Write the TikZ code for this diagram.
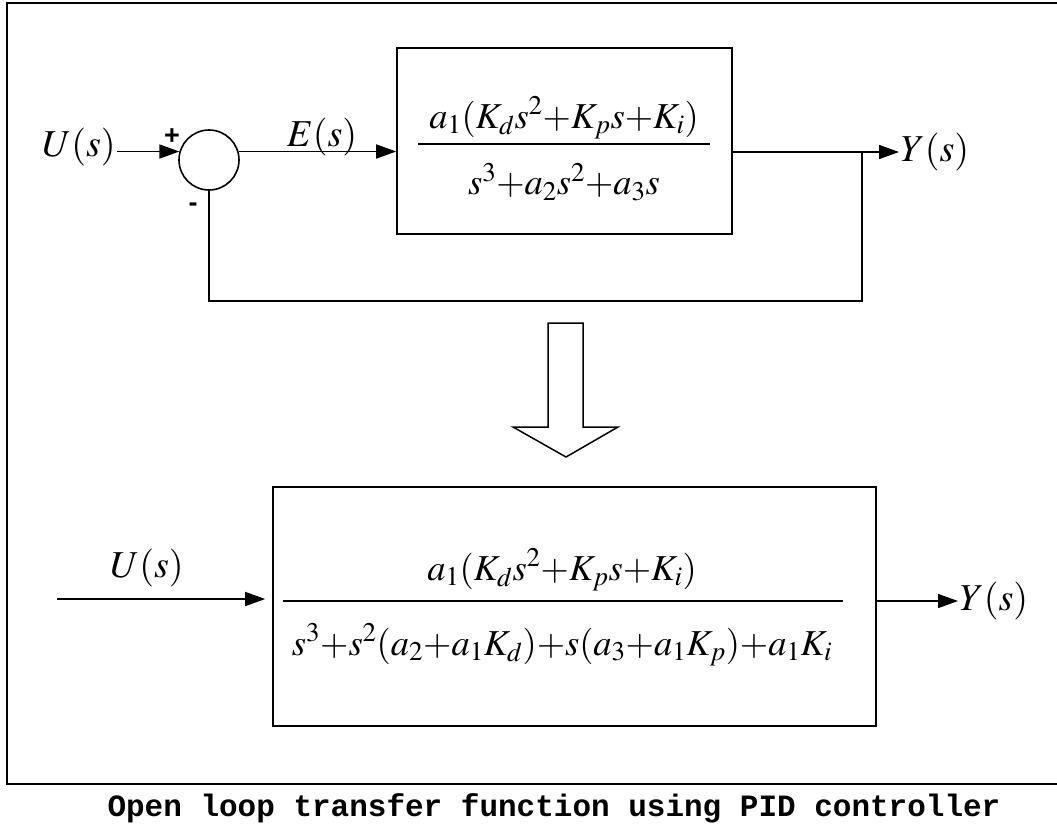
\documentclass[tikz,border=0pt]{standalone}
\usepackage{mathptmx}
\usepackage{fontspec}
\setmonofont{Liberation Mono}
\setsansfont{Liberation Sans}
\usetikzlibrary{arrows.meta}

\tikzset{
  sig/.style={inner sep=1pt, font=\fontsize{38}{44}\selectfont},
  frac/.style={inner sep=1pt, font=\fontsize{36.5}{42}\selectfont},
  blk/.style={draw, line width=1.6pt, inner sep=0pt},
  sum/.style={draw, circle, line width=1.6pt, minimum size=60pt, inner sep=0pt},
  pm/.style={inner sep=0pt, font=\sffamily\bfseries\fontsize{27}{30}\selectfont},
  bar/.style={line width=2.4pt},
}

\begin{document}
\begin{tikzpicture}[x=1pt, y=-1pt, line width=1.6pt, >={Triangle[length=20pt,width=14pt]}]
\useasboundingbox (0,0) rectangle (1057,825);
% frame
\draw[line width=2.6pt] (1057,3) -- (7,3) -- (7,784) -- (1057,784);

% closed loop
\node[sum] (sum) at (209,160) {};
\node[pm] (plus) at (172,137) {+};
\node[pm] (minus) at (193,207) {-};
\node[sig] (u1) at (79,147) {$U(s)$};
\node[sig] (e1) at (322,137) {$E(s)$};
\node[blk, minimum width=335pt, minimum height=186pt] (g1) at (564.5,141) {};
\node[frac] (n1) at (564,118) {$a_1(K_ds^2{+}K_ps{+}K_i)$};
\node[frac] (d1) at (564,182) {$s^3{+}a_2s^2{+}a_3s$};
\draw[bar] (418,144) -- (710,144);
\coordinate (split) at (862,152);
\node[sig, anchor=west] (y1) at (899,152) {$Y(s)$};

\draw[->] (u1.east |- sum.164) -- (sum.164);
\draw[->] (sum.16) -- (sum.16 -| g1.west);
\draw (g1.east |- split) -- (split);
\draw[->] (split) -- (y1.west);
\draw (split) -- ++(0,149) -| (sum.south);

% hollow arrow
\draw[line width=1.5pt] (548,323) -- (583,323) -- (583,427) -- (618,427)
  -- (566,457) -- (513,427) -- (548,427) -- cycle;

% open loop
\node[blk, minimum width=603pt, minimum height=239pt] (g2) at (574.5,606.5) {};
\node[frac] (n2) at (562,570) {$a_1(K_ds^2{+}K_ps{+}K_i)$};
\node[frac] (d2) at (562,645) {$s^3{+}s^2(a_2{+}a_1K_d){+}s(a_3{+}a_1K_p){+}a_1K_i$};
\draw[bar] (283,601) -- (843,601);
\node[sig] (u2) at (147,568) {$U(s)$};
\coordinate (in2) at (57,599);
\node[sig, anchor=west] (y2) at (958,601) {$Y(s)$};

\draw[->, shorten >=7pt] (in2) -- (in2 -| g2.west);
\draw[->] (y2.west -| g2.east) -- (y2.west);

\node[font=\ttfamily\bfseries\fontsize{31}{36}\selectfont] (cap) at (554,808)
  {Open loop transfer function using PID controller};
\end{tikzpicture}
\end{document}
